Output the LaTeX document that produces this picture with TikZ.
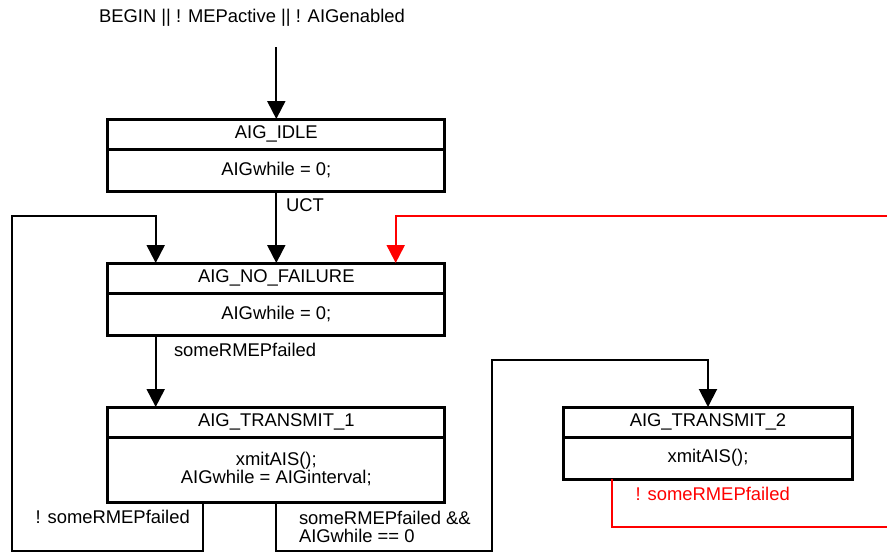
\documentclass[tikz,border=0pt]{standalone}
\usepackage{fontspec}
\setmainfont{Liberation Sans}
\usetikzlibrary{arrows.meta}
\begin{document}
\begin{tikzpicture}[x=1pt,y=-1pt,
  every node/.style={font=\fontsize{18.4}{18}\selectfont, inner sep=0pt, outer sep=0pt},
  hdr/.style={draw, line width=3pt, minimum height=30pt, anchor=north},
  bdy/.style={draw, line width=3pt, anchor=north, align=center},
  conn/.style={line width=2pt},
  arr/.style={conn, -{Triangle[width=18pt,length=18pt]}},
  lbl/.style={anchor=west, align=left},
]
\useasboundingbox (0,0) rectangle (887,552);

% states
\node[hdr, minimum width=337pt] (idle) at (276.3,119) {AIG\_IDLE};
\node[bdy, minimum width=337pt, minimum height=42pt] (idleb) at (276.3,149) {AIGwhile = 0;};

\node[hdr, minimum width=337pt] (nof) at (276.3,263) {AIG\_NO\_FAILURE};
\node[bdy, minimum width=337pt, minimum height=42pt] (nofb) at (276.3,293) {AIGwhile = 0;};

\node[hdr, minimum width=337pt] (t1) at (276.3,407) {AIG\_TRANSMIT\_1};
\node[bdy, minimum width=337pt, minimum height=65pt] (t1b) at (276.3,437) {xmitAIS();\\AIGwhile = AIGinterval;};

\node[hdr, minimum width=289.4pt] (t2) at (708,407) {AIG\_TRANSMIT\_2};
\node[bdy, minimum width=289.4pt, minimum height=42pt] (t2b) at (708,437) {xmitAIS();};

% start
\node (begin) at (252,18) {BEGIN || ! MEPactive || ! AIGenabled};
\coordinate (s) at (276.3,47);
\draw[arr] (s) -- (idle.north);

% UCT
\draw[arr] (idleb.south) -- (nof.north);
\node[lbl] (uct) at (286,205) {UCT};

% NO_FAILURE -> TRANSMIT_1
\coordinate (ld) at (155.7,215.7);
\draw[arr] (nofb.south -| ld) -- (ld |- t1.north);
\node[lbl] (l1) at (174,350) {someRMEPfailed};

% TRANSMIT_1 -> NO_FAILURE
\coordinate (la) at (203.3,551);
\coordinate (lb) at (12.3,551);
\coordinate (lc) at (12.3,215.7);
\draw[arr] (t1b.south -| la) -- (la) -- (lb) -- (lc) -- (ld) -- (ld |- nof.north);
\node[lbl] (l2) at (35.7,516.7) {! someRMEPfailed};

% TRANSMIT_1 -> TRANSMIT_2
\coordinate (ra) at (275.7,551);
\coordinate (rb) at (491.7,551);
\coordinate (rc) at (491.7,360);
\coordinate (rd) at (708,360);
\draw[arr] (t1b.south -| ra) -- (ra) -- (rb) -- (rc) -- (rd) -- (t2.north);
\node[lbl] (l3) at (299,527) {someRMEPfailed \&\&\\AIGwhile == 0};

% TRANSMIT_2 -> NO_FAILURE (red)
\coordinate (qa) at (611.7,526.7);
\coordinate (qb) at (887,526.7);
\coordinate (qc) at (887,215.7);
\coordinate (qd) at (395.7,215.7);
\draw[red, conn] (t2b.south -| qa) -- (qa) -- (qb);
\draw[red, arr] (qc) -- (qd) -- (qd |- nof.north);
\node[lbl, text=red] (l4) at (635.7,494.3) {! someRMEPfailed};
\end{tikzpicture}
\end{document}
